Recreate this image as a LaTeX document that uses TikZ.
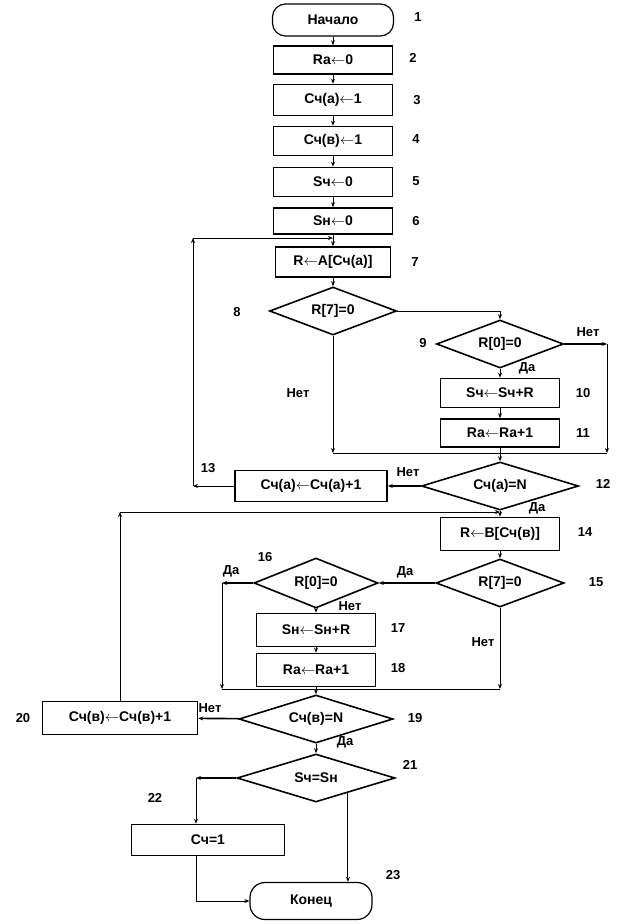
\documentclass[tikz,border=0pt]{standalone}
\usepackage{fontspec}
\setmainfont{Liberation Sans}
\usetikzlibrary{shapes.geometric, arrows.meta}
\newcommand{\getsto}{$\leftarrow$}

\begin{document}
\begin{tikzpicture}[x=1pt, y=-1pt,
        box/.style={rectangle, draw, line width=1.6pt, fill=white, minimum width=119pt, minimum height=30pt, inner sep=1pt, text centered, font=\fontsize{14}{16}\selectfont\bfseries},
        term/.style={box, rounded corners=13pt, line width=1.2pt},
        cond/.style={diamond, draw, line width=1.6pt, aspect=3, inner sep=1pt, minimum width=127pt, minimum height=48pt, font=\fontsize{14}{16}\selectfont\bfseries},
        arrow/.style={-{Stealth[length=5pt, width=4pt]}, line width=0.9pt},
        heavy/.style={line width=1.6pt},
        flow/.style={line width=0.9pt},
        label/.style={font=\fontsize{13}{15}\selectfont\bfseries},
        num/.style={font=\fontsize{13}{15}\selectfont\bfseries}
    ]
    \useasboundingbox (0,0) rectangle (627,924);

    % Initialisation
    \node[term, minimum width=121pt, minimum height=32pt] (start) at (333,20) {Начало};
    \node[box, minimum height=28pt] (ra0) at (333,60) {Ra\getsto0};
    \node[box, minimum height=31pt] (cna) at (333,100) {Сч(а)\getsto1};
    \node[box, minimum height=29pt] (cnb) at (333,141) {Сч(в)\getsto1};
    \node[box, minimum height=29pt] (sch) at (333,182) {Sч\getsto0};
    \node[box, minimum height=26pt] (snh) at (333,221) {Sн\getsto0};
    \draw[arrow] (start) -- (ra0);
    \draw[arrow] (ra0) -- (cna);
    \draw[arrow] (cna) -- (cnb);
    \draw[arrow] (cnb) -- (sch);
    \draw[arrow] (sch) -- (snh);

    % Loop over array A
    \node[box, minimum width=115pt] (ra) at (333,262) {R\getsto A[Сч(а)]};
    \node[cond] (c8) at (333,311) {R[7]=0};
    \node[cond] (c9) at (500,344) {R[0]=0};
    \node[box, minimum height=29pt] (s10) at (500,393) {Sч\getsto Sч+R};
    \node[box, minimum height=28pt] (r11) at (500,433) {Ra\getsto Ra+1};
    \node[cond, minimum width=157pt] (c12) at (500,486) {Сч(а)=N};
    \node[box, minimum width=152pt, minimum height=31pt] (b13) at (311,486) {Сч(а)\getsto Сч(а)+1};
    \coordinate (ra1) at (607,344);
    \coordinate (jr) at (607,453);
    \coordinate (jl) at (333,453);
    \coordinate (la) at (193,486);
    \coordinate (lb) at (193,238);
    \coordinate (lc) at (333,238);
    \draw[arrow] (snh) -- (ra);
    \draw[arrow] (ra) -- (c8);
    \draw[arrow] (c8.east) -| (c9.north);
    \draw[arrow] (c9) -- (s10);
    \draw[arrow] (s10) -- (r11);
    \draw[arrow, heavy] (c9.east) -- (ra1);
    \draw[arrow] (ra1) -- (jr);
    \draw[arrow] (c8) -- (jl);
    \draw[flow] (jl) -- (jr);
    \draw[arrow] (r11) -- (c12);
    \draw[arrow, heavy] (c12) -- (b13);
    \draw[arrow] (b13) -- (la);
    \draw[arrow] (la) -- (lb);
    \draw[arrow] (lb) -- (lc);

    % Loop over array B
    \node[box, minimum height=33pt] (rb14) at (500,534) {R\getsto B[Сч(в)]};
    \node[cond, minimum width=128pt] (c15) at (500,583) {R[7]=0};
    \node[cond, minimum width=124pt, minimum height=50pt] (c16) at (316,583) {R[0]=0};
    \node[box, minimum height=33pt] (s17) at (316,630) {Sн\getsto Sн+R};
    \node[box, minimum height=33pt] (r18) at (316,670) {Ra\getsto Ra+1};
    \node[cond, minimum width=154pt] (c19) at (316,719) {Сч(в)=N};
    \node[box, minimum width=155pt, minimum height=33pt] (b20) at (120,718) {Сч(в)\getsto Сч(в)+1};
    \coordinate (lf) at (222,583);
    \coordinate (lj) at (222,689);
    \coordinate (rj) at (500,689);
    \coordinate (lb2) at (120,512);
    \coordinate (lc2) at (500,512);
    \draw[arrow] (c12) -- (rb14);
    \draw[arrow] (rb14) -- (c15);
    \draw[arrow, heavy] (c15) -- (c16);
    \draw[arrow, heavy] (c16) -- (lf);
    \draw[arrow] (lf) -- (lj);
    \draw[arrow] (c15) -- (rj);
    \draw[flow] (lj) -- (rj);
    \draw[arrow] (c16) -- (s17);
    \draw[arrow] (s17) -- (r18);
    \draw[arrow] (r18) -- (c19);
    \draw[arrow, heavy] (c19) -- (b20);
    \draw[arrow] (b20) -- (lb2);
    \draw[arrow] (lb2) -- (lc2);

    % Comparison and end
    \node[cond, minimum width=158pt] (c21) at (316,778) {Sч=Sн};
    \node[box, minimum width=153pt, minimum height=31pt] (b22) at (208,840) {Сч=1};
    \node[term, minimum width=122pt, minimum height=37pt, rounded corners=15pt] (stop) at (311,901) {Конец};
    \coordinate (ll) at (196,778);
    \coordinate (lk) at (196,901);
    \draw[arrow] (c19) -- (c21);
    \draw[arrow, heavy] (c21) -- (ll);
    \draw[arrow] (ll) -- (ll |- b22.north);
    \draw[flow] (ll |- b22.south) -- (lk);
    \draw[arrow] (lk) -- (stop);
    \draw[arrow] (c21.-25) -- (c21.-25 |- stop.north);

    % Branch labels
    \node[label] at (298,393) {Нет};
    \node[label] at (527,368) {Да};
    \node[label] at (588,332) {Нет};
    \node[label] at (408,472) {Нет};
    \node[label] at (537,508) {Да};
    \node[label] at (405,572) {Да};
    \node[label] at (483,642) {Нет};
    \node[label] at (231,571) {Да};
    \node[label] at (350,606) {Нет};
    \node[label] at (210,708) {Нет};
    \node[label] at (345,742) {Да};

    % Block numbers
    \node[num] at (418,17) {1};
    \node[num] at (413,58) {2};
    \node[num] at (417,100) {3};
    \node[num] at (416,139) {4};
    \node[num] at (416,181) {5};
    \node[num] at (416,221) {6};
    \node[num] at (415,262) {7};
    \node[num] at (237,312) {8};
    \node[num] at (423,343) {9};
    \node[num] at (583,393) {10};
    \node[num] at (583,433) {11};
    \node[num] at (603,484) {12};
    \node[num] at (208,468) {13};
    \node[num] at (585,532) {14};
    \node[num] at (596,582) {15};
    \node[num] at (265,557) {16};
    \node[num] at (398,628) {17};
    \node[num] at (398,668) {18};
    \node[num] at (415,718) {19};
    \node[num] at (23,718) {20};
    \node[num] at (410,765) {21};
    \node[num] at (155,798) {22};
    \node[num] at (393,875) {23};
\end{tikzpicture}
\end{document}
